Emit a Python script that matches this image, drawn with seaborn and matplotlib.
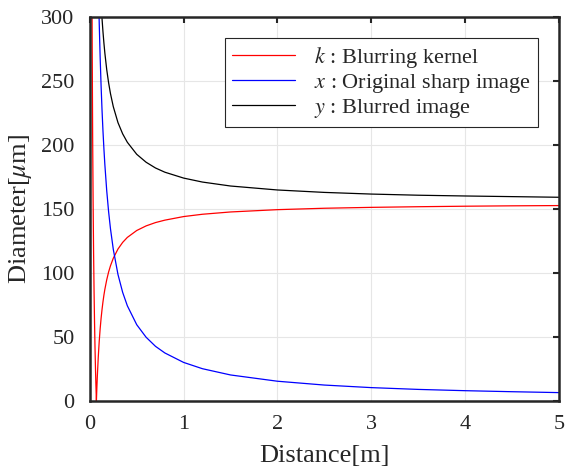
import matplotlib
matplotlib.use("Agg")
import matplotlib.pyplot as plt
import seaborn as sns
import pandas as pd

# Values
distance = [0.01, 0.015, 0.02, 0.025, 0.03, 0.035, 0.04, 0.045, 0.05, 0.055, 0.06, 0.065,
            0.07, 0.075, 0.08, 0.09, 0.1, 0.11, 0.12, 0.13, 0.14, 0.15, 0.16, 0.18, 0.2,
            0.22, 0.25, 0.3, 0.35, 0.4, 0.5, 0.6, 0.7, 0.8, 1.0, 1.2, 1.5, 2.0, 2.5,
            3.0, 3.5, 4.0, 4.5, 5.0]
kernel = [930, 568, 387.5, 279, 206.7, 155, 116, 86.1, 62, 42.3, 25.8, 11.9,
          0, 10.3, 19.4, 34.4, 46.5, 56.4, 64.6, 71.5, 77.5, 82.7, 87.2, 94.7, 100.8,
          105.7, 111.6, 118.8, 124, 127.9, 133.3, 136.9, 139.5, 141.4, 144.2, 146, 147.8, 149.6, 150.7,
          151.4, 151.9, 152.3, 152.6, 152.8]
sharp = [2951, 1967, 1476, 1181, 984, 843, 738, 656, 590, 537, 492, 454,
         422, 394, 369, 328, 295.6, 268.8, 246.4, 227.5, 211.3, 197.3, 185, 164.5, 148.1,
         134.7, 118.6, 98.9, 84.9, 74.4, 59.6, 49.8, 42.7, 37.5, 30.1, 25.2, 20.3, 15.4, 12.4,
         10.4, 9.0, 8.0, 7.2, 6.5]
blurred = [3881, 2535, 1863, 1460, 1191, 998, 854, 742, 652, 579, 518, 466,
           422, 404, 388, 362, 342, 325.2, 311, 299, 288.8, 280, 272.2, 259.2, 248.9,
           240.4, 230.2, 217.7, 208.9, 202.3, 192.9, 186.7, 182.2, 178.9, 174.3, 171.2, 168.1, 165, 163.1,
           161.8, 160.9, 160.3, 159.8, 159.3]

labels = [r"$k$ : Blurring kernel", r"$x$ : Original sharp image", r"$y$ : Blurred image"]
colors = ["#ff0000", "#0000ff", "#000000"]

df = pd.concat([
    pd.DataFrame({"Distance": distance, "Diameter": kernel, "series": labels[0]}),
    pd.DataFrame({"Distance": distance, "Diameter": sharp, "series": labels[1]}),
    pd.DataFrame({"Distance": distance, "Diameter": blurred, "series": labels[2]}),
])

sns.set_style("whitegrid")
plt.rcParams["font.family"] = ["Liberation Serif", "DejaVu Serif"]
plt.rcParams["mathtext.fontset"] = "stix"

fig = plt.figure(figsize=(5.65, 4.7), dpi=100)
ax = fig.add_axes([0.159, 0.147, 0.83, 0.816])

sns.lineplot(data=df, x="Distance", y="Diameter", hue="series", palette=colors,
             hue_order=labels, sort=False, estimator=None, linewidth=0.9, ax=ax)

ax.set_xlim(0, 5)
ax.set_ylim(0, 300)
ax.set_xticks([0, 1, 2, 3, 4, 5])
ax.set_yticks([0, 50, 100, 150, 200, 250, 300])
ax.grid(True, color="#e6e6e6", linewidth=0.8)
for s in ax.spines.values():
    s.set_visible(True)
    s.set_color("#262626")
    s.set_linewidth(1.8)
ax.tick_params(direction="in", length=4, width=1.5, top=True, right=True,
               labelsize=16, colors="#262626", labelcolor="#262626")
ax.tick_params(axis="y", pad=11)
ax.tick_params(axis="x", pad=10)
ax.set_xlabel("Distance[m]", fontsize=19, color="#262626", labelpad=8)
ax.set_ylabel(r"Diameter[$\mu$m]", fontsize=19, color="#262626", labelpad=5)

leg = ax.legend(loc="upper right", bbox_to_anchor=(0.955, 0.946), fontsize=16,
                frameon=True, fancybox=False, framealpha=1, edgecolor="#262626",
                borderpad=0.3, borderaxespad=0, handlelength=2.85, handletextpad=0.85,
                labelspacing=0.1)
leg.get_frame().set_linewidth(0.8)

fig.savefig("out.png", dpi=100)
